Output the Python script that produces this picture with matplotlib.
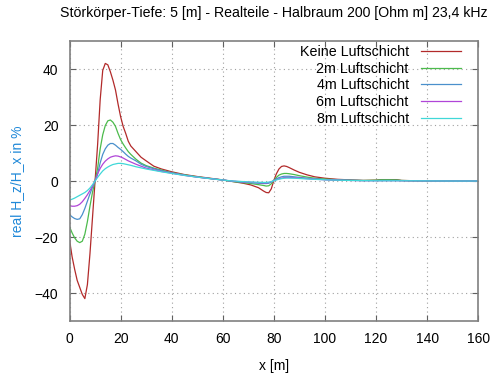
import matplotlib

matplotlib.use("Agg")
import matplotlib.pyplot as plt

plt.rcParams["font.family"] = ["Liberation Sans", "DejaVu Sans"]

# Profile positions along the line (m), shared by all five curves.
x_m = [0, 1, 2, 3, 4, 5, 6, 7, 8, 9, 10, 11, 12, 13, 14, 15, 16, 17, 18, 19,
       20, 21, 22, 23, 24, 26, 28, 30, 33, 36, 40, 45, 50, 55, 60,
       64, 68, 71, 74, 76, 77, 78, 79, 80, 81, 82, 83, 84, 85, 86, 88, 90,
       93, 96, 100, 105, 110, 115, 120, 122, 125, 128, 130, 135, 140, 150, 160]

# Real part of Hz/Hx in percent for each air-layer thickness.
keine = [-21, -27, -31.5, -35.5, -38, -40.5, -42, -37, -26, -13, 0, 13, 29, 39.5,
         42, 41.5, 39, 36, 32.5, 27.5, 23, 19.5, 17, 14.2, 12.5, 10.5, 8.5, 7.2,
         5.3, 4.3, 3.3, 2.3, 1.6, 1.0, 0.4,
         -0.2, -0.8, -1.4, -2.4, -3.6, -4.1, -4.2, -2.8, 0.2, 2.6, 4.3, 5.2, 5.4,
         5.2, 4.8, 3.9, 3.1, 2.2, 1.5, 1.0, 0.6, 0.4, 0.2, 0.3, 0.5, 0.5, 0.5,
         0.2, 0.1, 0.05, 0.0, 0.0]
luft_2m = [-16.3, -18.5, -20.3, -21.5, -22, -21.5, -19, -14.5, -9, -4, 0, 4.5,
           11.5, 16.5, 19.8, 21.5, 21.8, 21, 19.5, 17, 14.8, 13.2, 11.8, 10.5,
           9.5, 7.8, 6.4, 5.5, 4.6, 3.9, 3.0, 2.2, 1.5, 0.9, 0.35,
           -0.2, -0.6, -0.9, -1.3, -1.6, -1.8, -1.7, -1.0, 0.2, 1.3, 2.1, 2.5,
           2.7, 2.7, 2.6, 2.3, 1.9, 1.4, 1.0, 0.7, 0.45, 0.3, 0.2, 0.3, 0.45,
           0.45, 0.4, 0.2, 0.1, 0.05, 0, 0]
luft_4m = [-12, -12.8, -13.4, -13.7, -13.5, -12, -9.8, -7.2, -4.6, -2.2, 0, 2.5,
           6.5, 9.5, 11.5, 12.8, 13.4, 13.4, 12.8, 12, 11.3, 10.5, 9.6, 8.8,
           8.2, 7.2, 6.0, 5.2, 4.4, 3.7, 2.9, 2.1, 1.4, 0.9, 0.35,
           -0.1, -0.4, -0.6, -0.8, -0.9, -0.9, -0.8, -0.4, 0.2, 0.8, 1.2, 1.5,
           1.7, 1.7, 1.7, 1.5, 1.3, 1.0, 0.75, 0.5, 0.35, 0.25, 0.15, 0.15, 0.2,
           0.2, 0.2, 0.15, 0.1, 0.05, 0, 0]
luft_6m = [-8.8, -9, -9, -8.8, -8.3, -7.4, -6.2, -4.9, -3.4, -1.8, 0, 2.6, 4.5,
           6, 7.1, 7.9, 8.5, 8.8, 9, 8.9, 8.6, 8.2, 7.7, 7.2, 6.8, 6.0, 5.3, 4.6,
           4.0, 3.4, 2.8, 2.0, 1.4, 0.85, 0.35,
           -0.05, -0.3, -0.45, -0.6, -0.65, -0.65, -0.55, -0.3, 0.1, 0.5, 0.8,
           1.0, 1.2, 1.25, 1.25, 1.2, 1.05, 0.85, 0.65, 0.45, 0.3, 0.2, 0.15,
           0.12, 0.12, 0.12, 0.12, 0.1, 0.08, 0.05, 0, 0]
luft_8m = [-6.8, -6.5, -6.1, -5.6, -5.1, -4.6, -4.1, -3.4, -2.5, -1.3, 0, 1.3,
           2.5, 3.6, 4.4, 5.0, 5.5, 5.9, 6.1, 6.3, 6.3, 6.2, 6.0, 5.8, 5.6, 5.1,
           4.7, 4.3, 3.8, 3.3, 2.7, 2.0, 1.4, 0.85, 0.35,
           0.0, -0.2, -0.35, -0.45, -0.5, -0.5, -0.4, -0.2, 0.1, 0.4, 0.65, 0.85,
           1.0, 1.05, 1.05, 1.0, 0.9, 0.75, 0.6, 0.45, 0.3, 0.2, 0.15, 0.1, 0.1,
           0.1, 0.1, 0.1, 0.08, 0.05, 0, 0]

labels = ["Keine Luftschicht", "2m Luftschicht", "4m Luftschicht",
          "6m Luftschicht", "8m Luftschicht"]
colors = ["#b22a2a", "#4cbb4c", "#4a90cc", "#b045d8", "#40d8d8"]

fig = plt.figure(figsize=(4.98, 3.73), dpi=100)
ax = fig.add_axes([0.1396, 0.1394, 0.8206, 0.7506])

for ys, label, color in zip([keine, luft_2m, luft_4m, luft_6m, luft_8m],
                            labels, colors, strict=True):
    ax.plot(x_m, ys, color=color, linewidth=0.9, label=label)

ax.set_xlim(0, 160)
ax.set_ylim(-50, 50)
ax.set_xticks(range(0, 161, 20))
ax.set_yticks(range(-40, 41, 20))
ax.grid(True, color="#a0a0a0", linestyle=(0, (1, 3)), linewidth=0.8)
ax.tick_params(direction="in", length=4, width=0.8, top=True, right=True,
               labelsize=10, pad=8, colors="#606060", labelcolor="black")
for spine in ax.spines.values():
    spine.set_color("#808080")
    spine.set_linewidth(1.2)

ax.set_xlabel("x [m]", fontsize=10, labelpad=9)
ax.set_ylabel("real H_z/H_x in %", fontsize=10, color="#1f88d8", labelpad=8)
ax.set_title("Störkörper-Tiefe: 5 [m] - Realteile - Halbraum 200 [Ohm m] 23,4 kHz",
             fontsize=10.2, pad=17)

ax.legend(loc="upper right", bbox_to_anchor=(0.9577, 0.985), frameon=False,
          markerfirst=False, fontsize=10.3, handlelength=2.8, handletextpad=0.85,
          labelspacing=0.18, borderpad=0, borderaxespad=0)

fig.savefig("out.png", dpi=100)
plt.close(fig)
